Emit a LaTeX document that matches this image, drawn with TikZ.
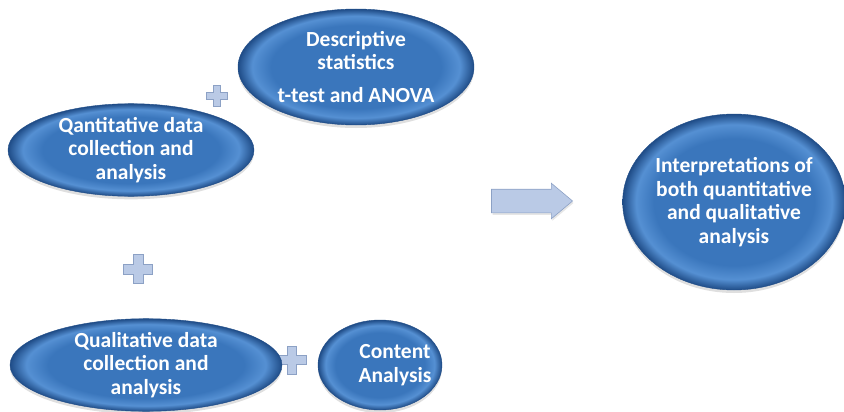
\documentclass[tikz,border=0pt]{standalone}
\usepackage{fontspec}
\setmainfont{Carlito}
\usepackage{xcolor}
\usepackage{tikz}
\usetikzlibrary{shapes.geometric,shapes.arrows,shadows}
\definecolor{ovalmid}{HTML}{3A76BC}
\definecolor{ovalrim}{HTML}{5590D3}
\definecolor{ovaledge}{HTML}{1F4C87}
\definecolor{plusfill}{HTML}{BACAE6}
\definecolor{plusline}{HTML}{8CA1C5}
\pgfdeclareradialshading{ovalshade}{\pgfpoint{0bp}{0bp}}{%
  color(0bp)=(ovalmid); color(18bp)=(ovalmid); color(22bp)=(ovalrim);
  color(25bp)=(ovaledge); color(50bp)=(ovaledge)}

\begin{document}
\begin{tikzpicture}[
  x=1pt, y=-1pt,
  ovaltext/.style={text=white, align=center, font=\fontsize{21.5}{23.5}\selectfont\bfseries},
  oval/.style={ellipse, shading=ovalshade, draw=ovaledge, line width=0.4pt,
    inner sep=0pt, ovaltext,
    drop shadow={opacity=0.25, shadow xshift=0pt, shadow yshift=-3pt}},
  plusmark/.style={fill=plusfill, draw=plusline, line width=0.6pt},
  blockarrow/.style={single arrow, fill=plusfill, draw=plusline, line width=0.6pt,
    inner sep=0pt, text height=11.5pt, text depth=11.5pt, text width=0pt,
    single arrow head extend=6pt, single arrow tip angle=80,
    drop shadow={opacity=0.2, shadow xshift=1pt, shadow yshift=-2pt}},
]
\useasboundingbox (0,0) rectangle (844,412);
% ---------- plus signs ----------
\foreach \px/\py/\ps in {217/96/21, 138/269/29, 292/360/28} {
  \pgfmathsetmacro{\ph}{\ps/2}
  \pgfmathsetmacro{\pa}{\ps/6}
  \draw[plusmark] (\px-\pa,\py-\ph) -- (\px+\pa,\py-\ph) -- (\px+\pa,\py-\pa)
    -- (\px+\ph,\py-\pa) -- (\px+\ph,\py+\pa) -- (\px+\pa,\py+\pa)
    -- (\px+\pa,\py+\ph) -- (\px-\pa,\py+\ph) -- (\px-\pa,\py+\pa)
    -- (\px-\ph,\py+\pa) -- (\px-\ph,\py-\pa) -- (\px-\pa,\py-\pa) -- cycle;
}
% ---------- quantitative side ----------
\node[oval, minimum width=236pt, minimum height=116pt] (descr) at (356,67)
  {Descriptive\\statistics\\[9pt]t-test and ANOVA};
\node[oval, minimum width=246pt, minimum height=92pt] (quant) at (131,150)
  {Qantitative data\\collection and\\analysis};
% ---------- qualitative side ----------
\node[oval, minimum width=272pt, minimum height=90pt] (qual) at (146,365)
  {Qualitative data\\collection and\\analysis};
\node[oval, minimum width=124pt, minimum height=90pt,
  label={[ovaltext, xshift=15pt]center:{Content\\Analysis}}] (content) at (380,365) {};
% ---------- result ----------
\node[blockarrow, minimum height=81pt] (toresult) at (525,201) {};
\node[oval, minimum width=218pt, minimum height=176pt] (interp) at (734,202)
  {Interpretations of\\both quantitative\\and qualitative\\analysis};
\end{tikzpicture}
\end{document}
